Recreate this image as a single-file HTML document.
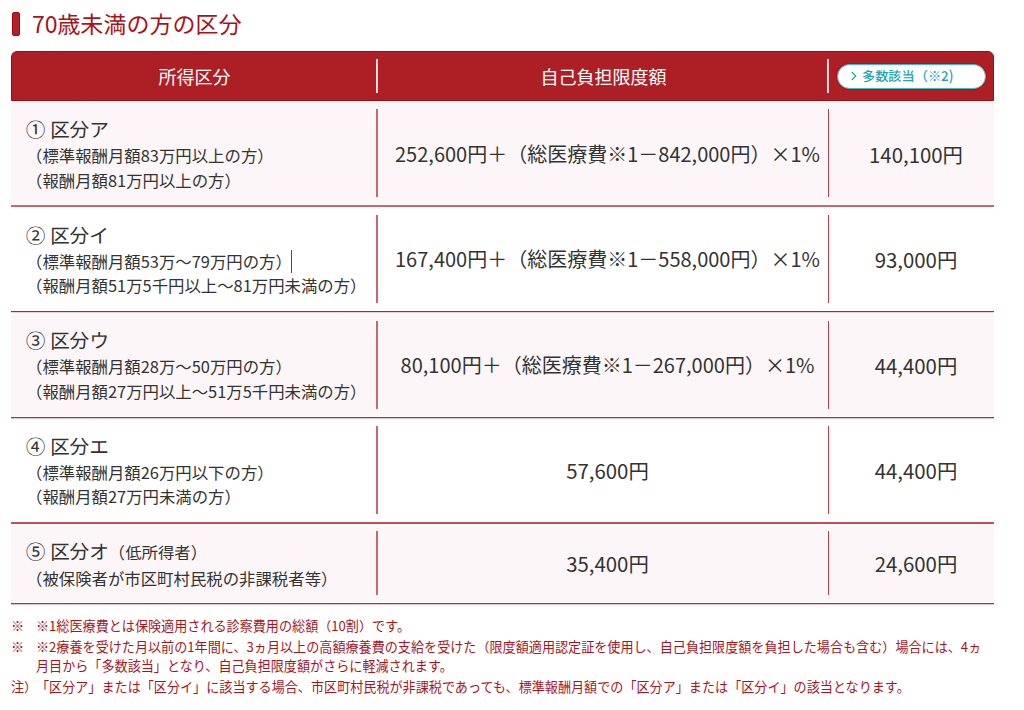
<!DOCTYPE html>
<html lang="ja">
<head>
<meta charset="utf-8">
<title>70歳未満の方の区分</title>
<style>
*{margin:0;padding:0;box-sizing:border-box;}
html,body{width:1024px;height:710px;background:#fff;overflow:hidden;}
body{position:relative;font-family:"Noto Sans CJK JP","Liberation Sans",sans-serif;color:#333;}
.abs{position:absolute;}
#bar{left:12px;top:12px;width:8px;height:24px;background:#b0212a;border:1px solid #a50812;border-radius:2px;}
#title{left:32px;top:6px;font-size:23px;line-height:34px;color:#a6131b;font-family:"Noto Sans JP","Noto Sans CJK JP",sans-serif;font-weight:440;white-space:nowrap;}
#head{left:11px;top:51px;width:983px;height:50px;background:#ae1f25;border:1px solid #a30b14;border-radius:6px 6px 0 0;}
.hsep{top:59px;width:2px;margin-left:-1px;height:34px;background:#efc9cb;}
.hsep:after{content:"";position:absolute;left:0;top:0;width:1px;height:100%;background:#fbeeee;}
.htext{top:51px;height:50px;line-height:50px;font-size:18px;color:#fff;text-align:center;white-space:nowrap;}
#pill{left:837px;top:64px;width:149px;height:25px;border:1.4px solid #36bfcb;background:#fff;border-radius:13px;color:#1ea4b2;font-size:13.2px;font-weight:500;font-family:"Noto Sans JP","Noto Sans CJK JP",sans-serif;line-height:22px;white-space:nowrap;padding-left:13px;box-shadow:0 0 0 1px #c40b16;}
#pill svg{display:inline-block;vertical-align:0px;margin-right:5px;}
.row{left:11px;width:983px;}
.pink{background:#fcf6f8;}
.hline{left:11px;width:983px;height:1px;background:#b3202c;}
.vsep{width:2px;margin-left:-1px;background:#cb666e;box-shadow:0 0 0 1px rgba(255,255,255,.85);}
.vsep.b{width:1px;margin-left:0;background:#c23a45;}
.cell{white-space:nowrap;}
.t1{font-size:19.6px;font-weight:440;font-family:"Noto Sans JP","Noto Sans CJK JP",sans-serif;line-height:24px;margin-bottom:2px;}
.t1 .n{font-weight:400;}
.t1 small{font-size:16.4px;font-weight:400;}
.sub{font-size:16.4px;line-height:24.8px;}
.mid{font-size:20.4px;line-height:30px;text-align:center;padding-left:10px;}
.mid.long{font-size:20px;}
.rt{font-size:20.4px;line-height:30px;text-align:center;padding-left:10px;}
.c2{left:377px;width:451px;}
.c3{left:828px;width:166px;}
.notes{left:11px;font-size:13.1px;line-height:18.4px;color:#a8141d;white-space:nowrap;}
.notes .m{position:absolute;left:0;}
.notes .t{padding-left:25px;}
.notes>div{margin-bottom:3px;}
#cursor{width:1px;height:23px;background:#4e4e4e;}
</style>
</head>
<body>
<div id="bar" class="abs"></div>
<div id="title" class="abs">70歳未満の方の区分</div>

<div id="head" class="abs"></div>
<div class="abs hsep" style="left:377px"></div>
<div class="abs hsep" style="left:828px"></div>
<div class="abs htext" style="left:12px;width:365px">所得区分</div>
<div class="abs htext" style="left:378px;width:451px">自己負担限度額</div>
<div id="pill" class="abs"><svg width="6" height="10" viewBox="0 0 6 10"><polyline points="0.8,1 4.8,5 0.8,9" fill="none" stroke="#1ea4b2" stroke-width="1.2"/></svg>多数該当（※2)</div>

<!-- row backgrounds -->
<div class="abs row pink" style="top:102px;height:102px"></div>
<div class="abs row pink" style="top:314px;height:102px"></div>
<div class="abs row pink" style="top:525px;height:77px"></div>

<!-- horizontal lines -->
<div class="abs hline" style="top:205px;height:2px;background:#cb666e"></div>
<div class="abs hline" style="top:311px;background:#b8222e;box-shadow:0 1px 0 #f0d2d5"></div>
<div class="abs hline" style="top:417px;background:#bb2833;box-shadow:0 1px 0 #ecc4c8"></div>
<div class="abs hline" style="top:522px;height:2px;background:#c54d57"></div>
<div class="abs hline" style="top:603px;background:#bd2c37;box-shadow:0 1px 0 #ebc0c4"></div>

<!-- vertical separators -->
<div class="abs vsep" style="left:377px;top:109px;height:88px"></div>
<div class="abs vsep b" style="left:828px;top:109px;height:88px"></div>
<div class="abs vsep" style="left:377px;top:215px;height:88px"></div>
<div class="abs vsep b" style="left:828px;top:215px;height:88px"></div>
<div class="abs vsep" style="left:377px;top:321px;height:88px"></div>
<div class="abs vsep b" style="left:828px;top:321px;height:88px"></div>
<div class="abs vsep" style="left:377px;top:426px;height:88px"></div>
<div class="abs vsep b" style="left:828px;top:426px;height:88px"></div>
<div class="abs vsep" style="left:377px;top:531px;height:64px"></div>
<div class="abs vsep b" style="left:828px;top:531px;height:64px"></div>

<!-- row 1 -->
<div class="abs cell" style="left:26px;top:117px">
  <div class="t1"><span class="n">①</span> 区分ア</div>
  <div class="sub">（標準報酬月額83万円以上の方）</div>
  <div class="sub">（報酬月額81万円以上の方）</div>
</div>
<div class="abs cell mid long c2" style="top:139px">252,600円＋（総医療費※1－842,000円）×1%</div>
<div class="abs cell rt c3" style="top:139px">140,100円</div>

<!-- row 2 -->
<div class="abs cell" style="left:26px;top:222.6px">
  <div class="t1"><span class="n">②</span> 区分イ</div>
  <div class="sub">（標準報酬月額53万～79万円の方）</div>
  <div class="sub">（報酬月額51万5千円以上～81万円未満の方）</div>
</div>
<div id="cursor" class="abs" style="left:291px;top:250px"></div>
<div class="abs cell mid long c2" style="top:244px">167,400円＋（総医療費※1－558,000円）×1%</div>
<div class="abs cell rt c3" style="top:244px">93,000円</div>

<!-- row 3 -->
<div class="abs cell" style="left:26px;top:328px">
  <div class="t1"><span class="n">③</span> 区分ウ</div>
  <div class="sub">（標準報酬月額28万～50万円の方）</div>
  <div class="sub">（報酬月額27万円以上～51万5千円未満の方）</div>
</div>
<div class="abs cell mid long c2" style="top:350px">80,100円＋（総医療費※1－267,000円）×1%</div>
<div class="abs cell rt c3" style="top:350px">44,400円</div>

<!-- row 4 -->
<div class="abs cell" style="left:26px;top:433.7px">
  <div class="t1"><span class="n">④</span> 区分エ</div>
  <div class="sub">（標準報酬月額26万円以下の方）</div>
  <div class="sub">（報酬月額27万円未満の方）</div>
</div>
<div class="abs cell mid c2" style="top:455px">57,600円</div>
<div class="abs cell rt c3" style="top:455px">44,400円</div>

<!-- row 5 -->
<div class="abs cell" style="left:26px;top:539px">
  <div class="t1"><span class="n">⑤</span> 区分オ<small>（低所得者）</small></div>
  <div class="sub">（被保険者が市区町村民税の非課税者等）</div>
</div>
<div class="abs cell mid c2" style="top:548px">35,400円</div>
<div class="abs cell rt c3" style="top:548px">24,600円</div>

<!-- notes -->
<div class="abs notes" style="top:617px;width:1010px">
  <div style="position:relative"><span class="m">※</span><div class="t">※1総医療費とは保険適用される診察費用の総額（10割）です。</div></div>
  <div style="position:relative"><span class="m">※</span><div class="t">※2療養を受けた月以前の1年間に、3ヵ月以上の高額療養費の支給を受けた（限度額適用認定証を使用し、自己負担限度額を負担した場合も含む）場合には、4ヵ<br>月目から「多数該当」となり、自己負担限度額がさらに軽減されます。</div></div>
  <div style="position:relative"><span class="m">注）</span><div class="t">「区分ア」または「区分イ」に該当する場合、市区町村民税が非課税であっても、標準報酬月額での「区分ア」または「区分イ」の該当となります。</div></div>
</div>
</body>
</html>
